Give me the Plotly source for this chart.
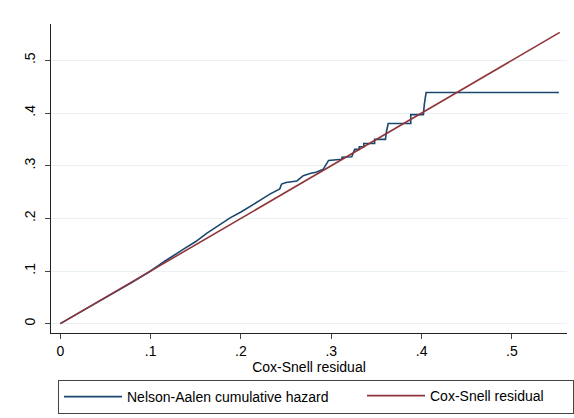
import plotly.graph_objects as go

# Nelson-Aalen cumulative hazard of the Cox-Snell residuals
na_time = [0.000, 0.020, 0.040, 0.060, 0.080, 0.100, 0.116, 0.136, 0.150, 0.162,
           0.175, 0.188, 0.200, 0.210, 0.221, 0.232, 0.243, 0.245, 0.250, 0.262,
           0.269, 0.2765, 0.284, 0.291, 0.295, 0.297, 0.3116, 0.312, 0.3227, 0.324,
           0.326, 0.331, 0.331, 0.336, 0.336, 0.348, 0.348, 0.360, 0.361, 0.363,
           0.388, 0.388, 0.402, 0.403, 0.405, 0.552]
na_hazard = [0.000, 0.0195, 0.0385, 0.058, 0.079, 0.100, 0.119, 0.141, 0.156, 0.1715,
             0.187, 0.201, 0.212, 0.222, 0.234, 0.246, 0.256, 0.265, 0.268, 0.271,
             0.281, 0.285, 0.288, 0.293, 0.304, 0.310, 0.312, 0.316, 0.317, 0.323,
             0.331, 0.331, 0.336, 0.336, 0.342, 0.342, 0.350, 0.350, 0.364, 0.380,
             0.380, 0.397, 0.397, 0.416, 0.439, 0.439]

# Cox-Snell residual reference line (45-degree)
cs_x = [0.0, 0.553]
cs_y = [0.0, 0.553]

tick_vals = [0, 0.1, 0.2, 0.3, 0.4, 0.5]
tick_text = ["0", ".1", ".2", ".3", ".4", ".5"]

BLUE = "#1a476f"
RED = "#90353b"
FONT = "Liberation Sans, Arial, Helvetica, sans-serif"

fig = go.Figure()
fig.add_trace(go.Scatter(x=na_time, y=na_hazard, mode="lines",
                         name="Nelson-Aalen cumulative hazard", showlegend=True,
                         line=dict(color=BLUE, width=1.6), legend="legend"))
fig.add_trace(go.Scatter(x=cs_x, y=cs_y, mode="lines",
                         name="Cox-Snell residual", showlegend=True,
                         line=dict(color=RED, width=1.6), legend="legend2"))

fig.update_layout(
    width=574, height=418,
    margin=dict(l=51, r=7, t=24, b=85),
    paper_bgcolor="white", plot_bgcolor="white",
    showlegend=True,
    font=dict(family=FONT, size=14, color="black"),
    xaxis=dict(range=[-0.0103, 0.561], tickvals=tick_vals, ticktext=tick_text,
               showgrid=False, zeroline=False, showline=True, linecolor="#222",
               linewidth=1, ticks="outside", ticklen=5, tickcolor="#444",
               title=dict(text="Cox-Snell residual", standoff=0,
                          font=dict(size=14)),
               automargin=False),
    yaxis=dict(range=[-0.0177, 0.569], tickvals=tick_vals, ticktext=tick_text,
               showgrid=True, gridcolor="#eaf1f2", gridwidth=1,
               zeroline=False, showline=True, linecolor="#222", linewidth=1,
               ticks="outside", ticklen=5, tickcolor="#444", tickangle=-90,
               ticklabelstandoff=4, automargin=False),
    legend=dict(orientation="h", xref="container", yref="container",
                x=58 / 574, y=1 - 380 / 418, xanchor="left", yanchor="top",
                bordercolor="#444", borderwidth=1, bgcolor="white",
                entrywidth=441, itemwidth=58,
                font=dict(size=14)),
    legend2=dict(orientation="h", xref="container", yref="container",
                 x=362 / 574, y=1 - 380 / 418, xanchor="left", yanchor="top",
                 borderwidth=0, bgcolor="rgba(0,0,0,0)", itemwidth=58,
                 font=dict(size=14)),
)

fig.write_html("out.html")
